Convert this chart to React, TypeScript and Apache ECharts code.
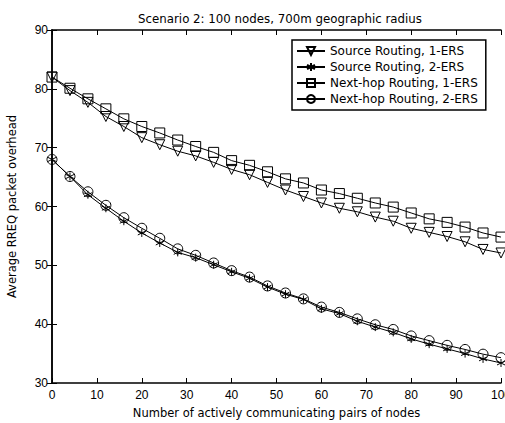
import React, { useEffect, useRef } from "react";
import * as echarts from "echarts";

const titleText = "Scenario 2: 100 nodes, 700m geographic radius";
const xName = "Number of actively communicating pairs of nodes";
const yName = "Average RREQ packet overhead";
const seriesNames = [
  "Source Routing, 1-ERS",
  "Source Routing, 2-ERS",
  "Next-hop Routing, 1-ERS",
  "Next-hop Routing, 2-ERS",
];
const xValues = [0, 4, 8, 12, 16, 20, 24, 28, 32, 36, 40, 44, 48, 52, 56, 60, 64, 68, 72, 76, 80, 84, 88, 92, 96, 100];
const source1 = [82, 79.7, 77.7, 75.3, 73.6, 71.7, 70.5, 69.4, 68.6, 67.5, 66.3, 65.4, 64.1, 62.8, 61.7, 60.6, 59.7, 59.1, 58.2, 57.5, 56.3, 55.6, 54.9, 54.0, 52.7, 52.1];
const source2 = [68, 65.1, 62.0, 59.7, 57.5, 55.5, 53.8, 52.2, 51.3, 50.1, 48.9, 47.8, 46.3, 45.1, 44.2, 42.6, 41.8, 40.5, 39.5, 38.6, 37.5, 36.6, 35.8, 35.0, 34.1, 33.4];
const nexthop1 = [82, 80.1, 78.3, 76.6, 74.9, 73.6, 72.5, 71.3, 70.2, 69.2, 67.8, 67.0, 65.9, 64.7, 64.0, 62.8, 62.2, 61.4, 60.6, 59.9, 58.9, 57.9, 57.3, 56.5, 55.5, 54.8];
const nexthop2 = [68, 65.1, 62.5, 60.2, 58.1, 56.3, 54.6, 52.8, 51.7, 50.4, 49.1, 48.0, 46.5, 45.3, 44.3, 42.9, 42.0, 40.9, 39.9, 39.1, 38.0, 37.2, 36.4, 35.7, 34.9, 34.3];

const asterisk = "path://M0,-5L0,5M-4.33,-2.5L4.33,2.5M-4.33,2.5L4.33,-2.5";

export default function App() {
  const ref = useRef<HTMLDivElement>(null);
  useEffect(() => {
    if (!ref.current) return;
    const chart = echarts.init(ref.current, undefined, { renderer: "svg" });
    const pairs = (ys: number[]) => xValues.map((x, i) => [x, ys[i]]);
    const axisLine = { show: true, lineStyle: { color: "#000", width: 1.5 } };
    const tick = { show: true, inside: true, length: 5, lineStyle: { color: "#000", width: 1 } };
    const label = { color: "#000", fontFamily: "Liberation Sans, Arial", fontSize: 12 };
    const mkSeries = (name: string, ys: number[], symbol: string, size: number, extra: any = {}) => ({
      name,
      type: "line",
      data: pairs(ys),
      symbol,
      symbolSize: size,
      showAllSymbol: true,
      lineStyle: { color: "#000", width: 1 },
      itemStyle: { color: "rgba(255,255,255,0)", borderColor: "#000", borderWidth: 1 },
      emphasis: { disabled: true },
      ...extra,
    });
    chart.setOption({
      animation: false,
      backgroundColor: "#fff",
      title: {
        text: titleText,
        left: 275,
        textAlign: "center",
        top: 8,
        textStyle: { fontFamily: "DejaVu Sans", fontSize: 11.8, fontWeight: "normal", color: "#000" },
      },
      legend: {
        orient: "vertical",
        left: 292,
        top: 40,
        data: seriesNames,
        itemWidth: 28,
        itemHeight: 10,
        itemGap: 4,
        padding: [5, 8, 5, 4],
        borderColor: "#000",
        borderWidth: 1.5,
        backgroundColor: "#fff",
        textStyle: { fontFamily: "DejaVu Sans", fontSize: 12, color: "#000" },
      },
      grid: { left: 52, right: 4, top: 30, bottom: 40, containLabel: false, outerBoundsMode: "none" },
      xAxis: [
        {
          type: "value",
          min: 0,
          max: 100,
          interval: 10,
          name: xName,
          nameLocation: "middle",
          nameGap: 24,
          nameTextStyle: { fontFamily: "DejaVu Sans", fontSize: 11.5, color: "#000" },
          axisLine,
          axisTick: tick,
          axisLabel: { ...label, margin: 6 },
          splitLine: { show: false },
        },
        {
          type: "value",
          position: "top",
          min: 0,
          max: 100,
          interval: 10,
          axisLine,
          axisTick: tick,
          axisLabel: { show: false },
          splitLine: { show: false },
        },
      ],
      yAxis: [
        {
          type: "value",
          min: 30,
          max: 90,
          interval: 10,
          name: yName,
          nameLocation: "middle",
          nameGap: 34,
          nameTextStyle: { fontFamily: "DejaVu Sans", fontSize: 11.5, color: "#000" },
          axisLine,
          axisTick: tick,
          axisLabel: { ...label, margin: 4 },
          splitLine: { show: false },
        },
        {
          type: "value",
          position: "right",
          min: 30,
          max: 90,
          interval: 10,
          axisLine,
          axisTick: tick,
          axisLabel: { show: false },
          splitLine: { show: false },
        },
      ],
      series: [
        mkSeries(seriesNames[0], source1, "triangle", 10, { symbolRotate: 180 }),
        mkSeries(seriesNames[1], source2, asterisk, 8),
        mkSeries(seriesNames[2], nexthop1, "rect", 10),
        mkSeries(seriesNames[3], nexthop2, "circle", 10),
      ],
    });
    return () => chart.dispose();
  }, []);
  return <div ref={ref} style={{ position: "fixed", left: 0, top: 0, width: 505, height: 423 }} />;
}
